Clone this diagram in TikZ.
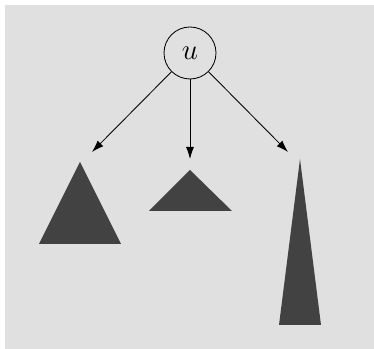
\documentclass[tikz,border=0pt]{standalone}
\usepackage{amsmath, amssymb}
\usepackage{tikz}
\usepackage{xcolor}
\usetikzlibrary{arrows.meta}

\definecolor{bggray}{HTML}{E0E0E0}
\definecolor{treegray}{HTML}{424242}

\begin{document}
\begin{tikzpicture}[subtree/.style={fill=treegray}, line width=0.6pt]
	\useasboundingbox (0,0) rectangle (9.35,8.725);
	\fill [bggray] (0.125,0) rectangle (9.35,8.6);
	
	\node [draw, circle, minimum size=1.3cm, inner sep=0pt] (u) at (4.75,7.4) {\huge $u$};
	
	\coordinate (left) at (2.3,4.925);
	\coordinate (mid) at (4.75,4.75);
	\coordinate (right) at (7.2,4.925);
	
	\draw [-{Latex[length=3mm, width=2mm]}] (u) -- (left);
	\draw [-{Latex[length=3mm, width=2mm]}] (u) -- (mid);
	\draw [-{Latex[length=3mm, width=2mm]}] (u) -- (right);
	
	\fill [subtree] (2,4.675) -- (0.975,2.625) -- (3.025,2.625) -- cycle;
	\fill [subtree] (4.75,4.475) -- (3.725,3.45) -- (5.8,3.45) -- cycle;
	\fill [subtree] (7.5,4.75) -- (6.975,0.6) -- (8.025,0.6) -- cycle;
\end{tikzpicture}
\end{document}
